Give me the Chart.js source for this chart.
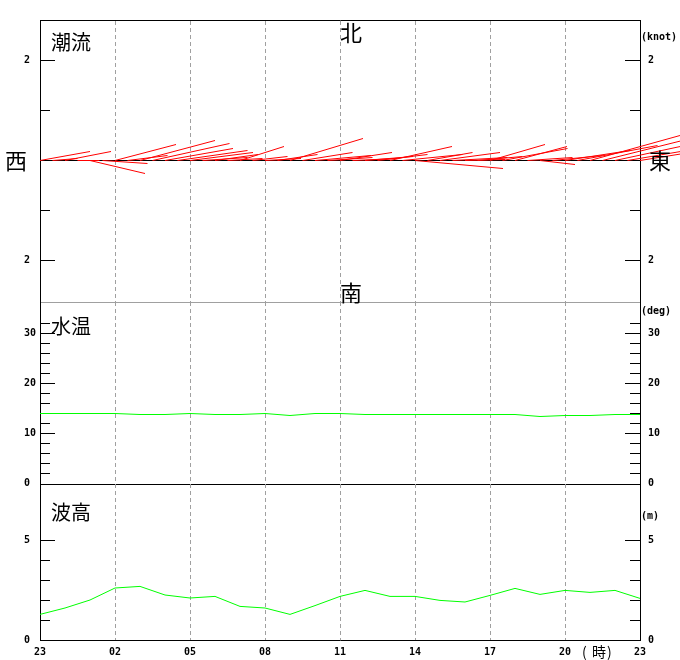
<!DOCTYPE html>
<html><head><meta charset="utf-8">
<script src="https://cdn.jsdelivr.net/npm/chart.js@4.4.1/dist/chart.umd.min.js"></script>
<style>
html,body{margin:0;padding:0;background:#fff;}
#wrap{position:relative;width:680px;height:660px;overflow:hidden;background:#fff;}
canvas{position:absolute;left:0;top:0;}
.t{position:absolute;white-space:nowrap;line-height:1;color:#000;}
.cjk{font-family:'Noto Sans CJK JP',sans-serif;}
.u{font-family:'DejaVu Sans Mono',monospace;font-weight:bold;font-size:10px;}
</style></head>
<body><div id="wrap">
<canvas id="c1" width="680" height="660"></canvas>
<canvas id="c2" width="680" height="660"></canvas>
<canvas id="c3" width="680" height="660"></canvas>
<div class="t cjk" style="left:51px;top:32px;font-size:20px;">潮流</div>
<div class="t cjk" style="left:51px;top:316px;font-size:20px;">水温</div>
<div class="t cjk" style="left:51px;top:502px;font-size:20px;">波高</div>
<div class="t cjk" style="left:340px;top:20px;font-size:22px;">北</div>
<div class="t cjk" style="left:340px;top:280px;font-size:22px;">南</div>
<div class="t cjk" style="left:5px;top:148px;font-size:22px;">西</div>
<div class="t cjk" style="left:649px;top:148px;font-size:22px;">東</div>
<div class="t u" style="left:641px;top:32px;">(knot)</div>
<div class="t u" style="left:641px;top:306px;">(deg)</div>
<div class="t u" style="left:641px;top:511px;">(m)</div>
<div class="t cjk" style="left:582px;top:644px;font-size:14px;">(</div>
<div class="t cjk" style="left:592px;top:644px;font-size:14px;">時</div>
<div class="t cjk" style="left:607px;top:644px;font-size:14px;">)</div>
</div>
<script>
// ---- data ----
// current vectors, sampled every half hour from 23:00 (hours since 23:00)
const currentTimes = [0,0.5,1,1.5,2,2.5,3,3.5,4,4.5,5,5.5,6,6.5,7,7.5,8,8.5,9,9.5,10,10.5,11,11.5,12,12.5,13,13.5,14,14.5,15,15.5,16,16.5,17,17.5,18,18.5,19,19.5,20,20.5,21,21.5,22,22.5,23,23.5,24];
const currentEast  = [1.00,0.50,0.92,0.44,1.10,0.90,1.22,0.80,1.50,1.54,1.36,1.40,1.26,0.90,0.86,0.70,0.88,0.70,0.72,0.80,1.46,1.00,1.12,0.90,1.04,0.90,0.96,1.00,1.24,1.20,1.76,0.90,1.20,1.10,0.80,0.90,1.10,1.30,1.04,0.90,0.70,1.00,1.30,1.60,1.80,1.60,1.40,1.30,1.00];
const currentNorth = [0.18,0.04,0.18,0.00,-0.26,-0.06,0.32,0.10,0.40,0.34,0.24,0.20,0.16,0.06,0.12,0.04,0.28,0.08,0.04,0.12,0.44,0.16,0.10,0.06,0.16,0.04,0.08,0.12,0.28,0.12,-0.16,0.16,0.16,0.06,0.02,0.08,0.32,0.24,0.28,0.06,-0.08,0.10,0.20,0.30,0.50,0.40,0.30,0.22,0.16];
// hourly series (hours since 23:00)
const hourTimes = [0,1,2,3,4,5,6,7,8,9,10,11,12,13,14,15,16,17,18,19,20,21,22,23,24];
const waterTemp = [14.0,14.0,14.0,14.0,13.8,13.8,14.0,13.8,13.8,14.0,13.6,14.0,14.0,13.8,13.8,13.8,13.8,13.8,13.8,13.8,13.4,13.6,13.6,13.8,13.8];
const waveHeight = [1.28,1.60,2.00,2.60,2.68,2.25,2.10,2.18,1.68,1.60,1.28,1.72,2.18,2.48,2.18,2.18,1.98,1.90,2.23,2.58,2.28,2.48,2.38,2.48,2.08];
// tick labels
const timeTickValues = [0,3,6,9,12,15,18,21,24];
const timeTickLabels = ['23','02','05','08','11','14','17','20','23'];
const currentMajorTicks = [-2,2];
const currentMinorTicks = [-1,0,1];
const tempMajorTicks = [0,10,20,30];
const tempMinorTicks = [2,4,6,8,12,14,16,18,22,24,26,28,32];
const waveMajorTicks = [0,5];
const waveMinorTicks = [1,2,3,4];

// ---- helpers ----
const tickFont = {family: "'DejaVu Sans Mono', monospace", size: 10, weight: 'bold'};
const GRID_GRAY = '#a0a0a0';
const CLEAR = 'rgba(0,0,0,0)';
function setTicks(values){ return s => { s.ticks = values.map(v => ({value: v})); }; }
function yMajor(pos, min, max, values, fmt, hideZeroTick){
  return {
    type: 'linear', position: pos, min, max, weight: 1,
    afterBuildTicks: setTicks(values),
    afterFit: s => { s.width = pos === 'left' ? 16 : 40; s.paddingTop = 0; s.paddingBottom = 0; },
    grid: {drawOnChartArea: false, drawTicks: true, tickLength: -15, tickWidth: 1,
           tickColor: c => (hideZeroTick && c.tick && c.tick.value === 0) ? CLEAR : '#000'},
    border: {display: true, color: '#000', width: 1},
    ticks: {font: tickFont, color: '#000', padding: pos === 'left' ? 0 : 23,
            crossAlign: pos === 'left' ? 'far' : 'near', autoSkip: false, callback: fmt}
  };
}
function yMinor(pos, min, max, values, zeroLine){
  return {
    type: 'linear', position: pos, min, max, weight: 0,
    afterBuildTicks: setTicks(values),
    afterFit: s => { s.width = 0; s.paddingTop = 0; s.paddingBottom = 0; },
    grid: {drawOnChartArea: !!zeroLine,
           color: c => (zeroLine && c.tick && c.tick.value === 0) ? '#000' : CLEAR,
           drawTicks: true, tickLength: -10, tickColor: '#000', tickWidth: 1},
    border: {display: false},
    ticks: {display: false}
  };
}
function xAxis(pos, showLabels, borderColor){
  return {
    type: 'linear', position: pos, min: 0, max: 24,
    afterBuildTicks: setTicks(timeTickValues),
    afterFit: s => { s.height = showLabels ? 20 : 0; s.paddingLeft = 0; s.paddingRight = 0; },
    grid: {drawOnChartArea: true, drawTicks: false,
           color: c => (c.tick && (c.tick.value === 0 || c.tick.value === 24)) ? CLEAR : GRID_GRAY},
    border: {display: true, color: borderColor, width: 1, dash: [4,3]},
    ticks: {display: showLabels, font: tickFont, color: '#000', padding: 6, autoSkip: false, maxRotation: 0,
            callback: v => { const i = timeTickValues.indexOf(v); return i >= 0 ? timeTickLabels[i] : ''; }}
  };
}
function plainX(pos, borderColor){
  return {
    type: 'linear', position: pos, min: 0, max: 24,
    afterFit: s => { s.height = 0; s.paddingLeft = 0; s.paddingRight = 0; },
    grid: {display: false, drawTicks: false},
    border: {display: true, color: borderColor, width: 1},
    ticks: {display: false}
  };
}
const baseOpts = {responsive: false, animation: false, events: [], devicePixelRatio: 1,
  plugins: {legend: {display: false}, tooltip: {enabled: false}, title: {display: false}}};

// ---- chart 1: current vectors ----
const vecData = [];
for (let i = 0; i < currentTimes.length; i++) {
  vecData.push({x: currentTimes[i], y: 0});
  // 1 knot east = 2 hours of x-axis (same pixel length as 1 knot on y)
  vecData.push({x: currentTimes[i] + 2 * currentEast[i], y: currentNorth[i]});
  vecData.push({x: currentTimes[i], y: null});
}
const cMin = -2.83, cMax = 2.81;
new Chart(document.getElementById('c1'), {
  type: 'line',
  data: {datasets: [{data: vecData, borderColor: '#ff0000', borderWidth: 1, pointRadius: 0,
    tension: 0, spanGaps: false, clip: false, xAxisID: 'x', yAxisID: 'y'}]},
  options: Object.assign({}, baseOpts, {
    layout: {padding: {left: 24, right: 0, top: 20, bottom: 358}},
    scales: {
      x: xAxis('top', false, '#000'),
      x2: plainX('bottom', GRID_GRAY),
      y: yMajor('left', cMin, cMax, currentMajorTicks, v => String(Math.abs(v)), false),
      yMinL: yMinor('left', cMin, cMax, currentMinorTicks, true),
      yR: yMajor('right', cMin, cMax, currentMajorTicks, v => String(Math.abs(v)), false),
      yMinR: yMinor('right', cMin, cMax, currentMinorTicks.filter(v => v !== 0), false)
    }
  })
});

// ---- chart 2: water temperature ----
const tMin = -0.1, tMax = 36.3;
new Chart(document.getElementById('c2'), {
  type: 'line',
  data: {datasets: [{data: hourTimes.map((h, i) => ({x: h, y: waterTemp[i]})),
    borderColor: '#00ff00', borderWidth: 1, pointRadius: 0, tension: 0, xAxisID: 'x', yAxisID: 'y'}]},
  options: Object.assign({}, baseOpts, {
    layout: {padding: {left: 24, right: 0, top: 302, bottom: 176}},
    scales: {
      x: xAxis('bottom', false, '#000'),
      y: yMajor('left', tMin, tMax, tempMajorTicks, v => String(v), true),
      yMinL: yMinor('left', tMin, tMax, tempMinorTicks, false),
      yR: yMajor('right', tMin, tMax, tempMajorTicks, v => String(v), true),
      yMinR: yMinor('right', tMin, tMax, tempMinorTicks, false)
    }
  })
});

// ---- chart 3: wave height ----
const wMin = 0, wMax = 7.8;
new Chart(document.getElementById('c3'), {
  type: 'line',
  data: {datasets: [{data: hourTimes.map((h, i) => ({x: h, y: waveHeight[i]})),
    borderColor: '#00ff00', borderWidth: 1, pointRadius: 0, tension: 0, xAxisID: 'x', yAxisID: 'y'}]},
  options: Object.assign({}, baseOpts, {
    layout: {padding: {left: 24, right: 0, top: 484, bottom: 0}},
    scales: {
      x: xAxis('bottom', true, '#000'),
      y: yMajor('left', wMin, wMax, waveMajorTicks, v => String(v), false),
      yMinL: yMinor('left', wMin, wMax, waveMinorTicks, false),
      yR: yMajor('right', wMin, wMax, waveMajorTicks, v => String(v), false),
      yMinR: yMinor('right', wMin, wMax, waveMinorTicks, false)
    }
  })
});
</script>
</body></html>
